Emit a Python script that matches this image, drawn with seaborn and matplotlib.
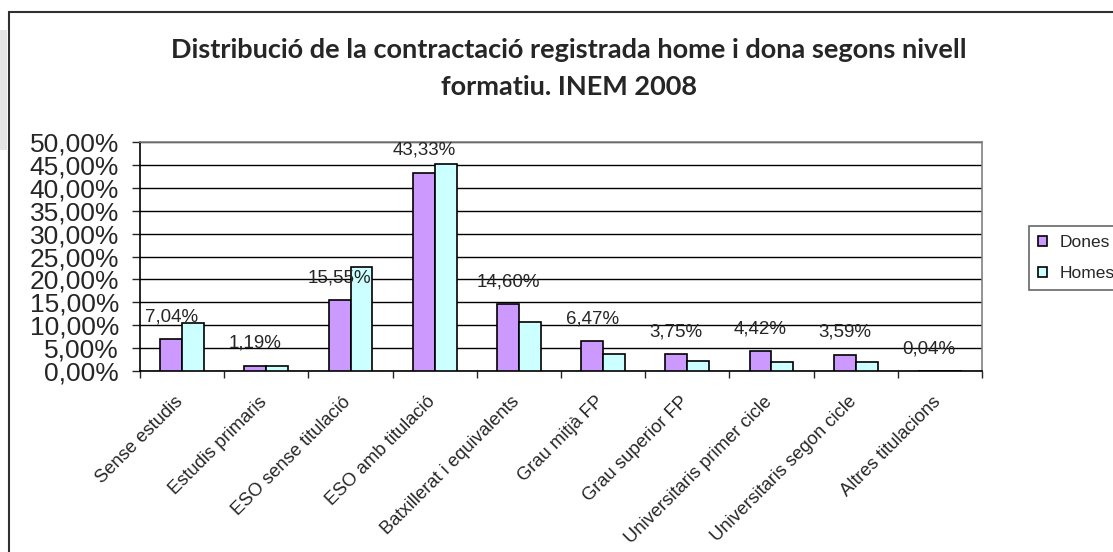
import matplotlib
matplotlib.use("Agg")
import matplotlib.pyplot as plt
import matplotlib.transforms as mtransforms
import seaborn as sns
import numpy as np
import pandas as pd
from matplotlib.patches import Rectangle

# dades (llegides del gràfic)
categories = ["Sense estudis", "Estudis primaris", "ESO sense titulació",
              "ESO amb titulació", "Batxillerat i equivalents", "Grau mitjà FP",
              "Grau superior FP", "Universitaris primer cicle",
              "Universitaris segon cicle", "Altres titulacions"]
dones = [7.04, 1.19, 15.55, 43.33, 14.60, 6.47, 3.75, 4.42, 3.59, 0.04]
homes = [10.4, 1.2, 22.6, 45.1, 10.7, 3.7, 2.2, 1.9, 1.9, 0.05]
series = ["Dones", "Homes"]
colors = ["#CC99FF", "#CCFFFF"]

df = pd.DataFrame({
    "nivell": categories * 2,
    "valor": dones + homes,
    "sexe": [series[0]] * len(categories) + [series[1]] * len(categories),
})

sns.set_style("white")
plt.rcParams["font.family"] = ["Liberation Sans", "DejaVu Sans"]

fig = plt.figure(figsize=(11.13, 5.52), dpi=100)
ax = fig.add_axes([140 / 1113, 181 / 552, 842 / 1113, 229 / 552])

sns.barplot(data=df, x="nivell", y="valor", hue="sexe", palette=colors,
            width=0.52, edgecolor="black", linewidth=1.2, saturation=1,
            ax=ax, zorder=3)

ax.set_ylim(0, 50)
ax.set_xlim(-0.5, len(categories) - 0.5)
ax.set_yticks(np.arange(0, 51, 5))
ax.set_yticklabels([f"{v:.2f}%".replace(".", ",") for v in np.arange(0, 51, 5)],
                   fontsize=19)
ax.yaxis.grid(True, color="black", linewidth=1)
ax.set_axisbelow(True)
ax.tick_params(axis="y", length=6, width=1, pad=9, direction="out", left=True)

# ticks entre categories, etiquetes al centre
ax.set_xticks(np.arange(-0.5, len(categories), 1), minor=False)
ax.set_xticklabels([])
ax.set_xticks(np.arange(len(categories)), minor=True)
ax.set_xticklabels(categories, minor=True, rotation=45, ha="right",
                   rotation_mode="anchor", fontsize=13.2)
ax.tick_params(axis="x", which="major", length=5, width=1, bottom=True)
ax.tick_params(axis="x", which="minor", length=0, pad=16)
shift = mtransforms.ScaledTranslation(-8 / 100, 0, fig.dpi_scale_trans)
for lab in ax.get_xticklabels(minor=True):
    lab.set_transform(lab.get_transform() + shift)
ax.set_xlabel("")
ax.set_ylabel("")

for s in ["left", "bottom"]:
    ax.spines[s].set_color("black")
    ax.spines[s].set_linewidth(1.2)
for s in ["top", "right"]:
    ax.spines[s].set_color("#808080")
    ax.spines[s].set_linewidth(1.2)

# etiquetes de les dones
for i, v in enumerate(dones):
    ax.annotate(f"{v:.2f}%".replace(".", ","), (i - 0.13, v),
                xytext=(0, 16), textcoords="offset points",
                ha="center", va="center", fontsize=13.5)

leg = ax.legend(loc="center left", bbox_to_anchor=(1.0558, 0.493), fontsize=12.5,
                frameon=True, fancybox=False, edgecolor="#404040",
                handlelength=0.55, handleheight=0.55, handletextpad=0.7,
                borderpad=0.5, labelspacing=0.92, borderaxespad=0)
leg.get_frame().set_linewidth(1.2)
for h in leg.legend_handles:
    h.set_edgecolor("black")
    h.set_height(7)
    h.set_width(7)

fig.text(0.511, 1 - 50 / 552, "Distribució de la contractació registrada home i dona segons nivell",
         ha="center", va="center", fontsize=19.5, fontweight="bold",
         family=["Lato", "DejaVu Sans"])
fig.text(0.511, 1 - 87 / 552, "formatiu. INEM 2008",
         ha="center", va="center", fontsize=19.5, fontweight="bold",
         family=["Lato", "DejaVu Sans"])

# marc exterior
fig.patches.append(Rectangle((9 / 1113, -0.05), 1.1, 1 - 12 / 552 + 0.05,
                             transform=fig.transFigure, fill=False,
                             edgecolor="#303030", linewidth=1.5))
fig.patches.append(Rectangle((0, 1 - 150 / 552), 7 / 1113, 120 / 552,
                             transform=fig.transFigure, facecolor="#e4e4e4",
                             edgecolor="none"))

fig.savefig("out.png", dpi=100)
